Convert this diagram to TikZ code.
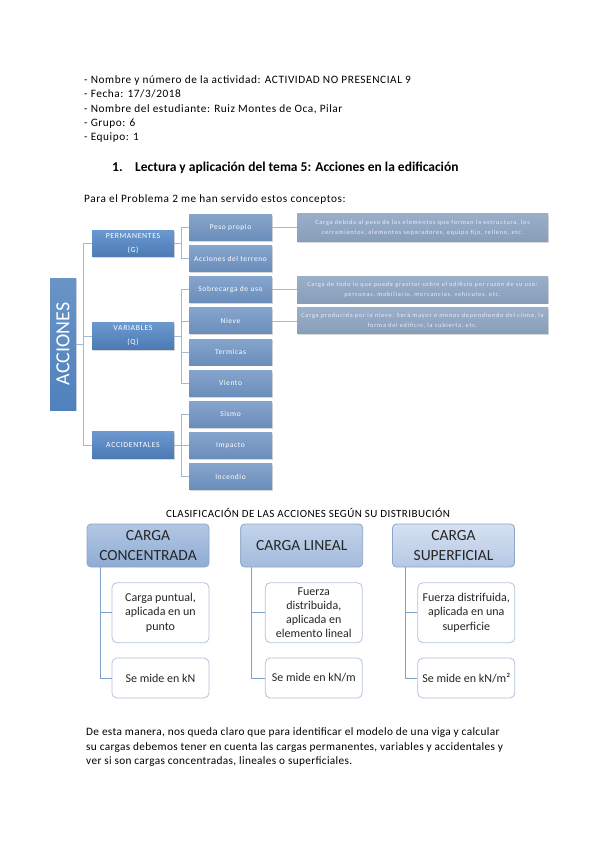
\documentclass[tikz,border=0pt]{standalone}
\usepackage{fontspec}
\setmainfont{Carlito}
\newfontfamily\trf[LetterSpace=8]{Carlito}
\newfontfamily\dsf[LetterSpace=12]{Carlito}
\newfontfamily\hdf[LetterSpace=5]{Carlito}
\newfontfamily\btf[LetterSpace=3]{Carlito}
\newfontfamily\ctf[LetterSpace=4]{Carlito}
\usetikzlibrary{shadows,calc}
\definecolor{accc}{HTML}{4F81BD}
\definecolor{lvtop}{HTML}{6C98CE}
\definecolor{lvbot}{HTML}{4B7AB6}
\definecolor{lttop}{HTML}{86A5CC}
\definecolor{ltbot}{HTML}{6A8DBB}
\definecolor{dstop}{HTML}{9AAFC8}
\definecolor{dsbot}{HTML}{879EBA}
\definecolor{connc}{HTML}{A3B8D2}
\definecolor{hatop}{HTML}{B3C7E3}
\definecolor{habot}{HTML}{8EABD4}
\definecolor{hbtop}{HTML}{C3D3EA}
\definecolor{hbbot}{HTML}{A3BBDD}
\definecolor{hctop}{HTML}{D6E1F1}
\definecolor{hcbot}{HTML}{B5C8E4}
\definecolor{hdraw}{HTML}{8DA5C6}
\definecolor{chdraw}{HTML}{B3C3D8}
\definecolor{lline}{HTML}{7FA0CA}
\definecolor{htext}{HTML}{262626}
\tikzset{
  shad/.style={drop shadow={opacity=0.3,shadow xshift=1pt,shadow yshift=-1.3pt}},
  conn/.style={draw=connc, line width=0.8pt},
  accbox/.style={shad, top color=accc!85!white, bottom color=accc, text=white, inner sep=0pt,
    minimum width=26pt, minimum height=132pt},
  lvbox/.style={shad, top color=lvtop, bottom color=lvbot, text=white, inner sep=0pt,
    minimum width=82pt, minimum height=26.5pt, align=center, font=\trf\fontsize{7.8}{14}\selectfont},
  ltbox/.style={shad, top color=lttop, bottom color=ltbot, text=white, inner sep=0pt,
    minimum width=83pt, minimum height=26pt, align=center, font=\trf\fontsize{7.5}{9}\selectfont},
  dsbox/.style={shad, top color=dstop, bottom color=dsbot, text=white!92!blue, inner sep=0pt,
    minimum width=251pt, align=center, font=\dsf\fontsize{6.3}{9.8}\selectfont},
  hbox/.style={draw=hdraw, line width=0.8pt, rounded corners=4pt, inner sep=0pt, text=htext,
    minimum width=122pt, minimum height=43pt, align=center, font=\fontsize{15.5}{19.5}\selectfont},
  chbox/.style={draw=chdraw, line width=0.8pt, fill=white, rounded corners=5pt, inner sep=0pt, text=htext,
    minimum width=97pt, align=center, font=\fontsize{12}{14.5}\selectfont},
  lin/.style={draw=lline, line width=0.9pt},
  txt/.style={anchor=base west, inner sep=0pt, font=\hdf\fontsize{11.3}{13}\selectfont},
  btxt/.style={anchor=base west, inner sep=0pt, font=\btf\fontsize{11.3}{13}\selectfont},
}
\begin{document}
\begin{tikzpicture}[x=1pt,y=-1pt]
\useasboundingbox (0,0) rectangle (599,848);
\fill[white] (0,0) rectangle (599,848);
% header text
\node[txt] (t1) at (84,83.5) {- Nombre y número de la actividad: ACTIVIDAD NO PRESENCIAL 9};
\node[txt] (t2) at (84,97.8) {- Fecha: 17/3/2018};
\node[txt] (t3) at (84,112.1) {- Nombre del estudiante: Ruiz Montes de Oca, Pilar};
\node[txt] (t4) at (84,126.4) {- Grupo: 6};
\node[txt] (t5) at (84,140.7) {- Equipo: 1};
\node[txt, font=\bfseries\fontsize{13.5}{16}\selectfont] (h0) at (112,171) {1.};
\node[txt, font=\bfseries\fontsize{13.5}{16}\selectfont] (h1) at (135,171) {Lectura y aplicación del tema 5: Acciones en la edificación};
\node[txt] (p0) at (84,202.5) {Para el Problema 2 me han servido estos conceptos:};
% tree
\node[accbox] (acc) at (63,344) {\rotatebox{90}{\fontsize{20}{20}\selectfont ACCIONES}};
\node[lvbox] (perm) at (133,243.5) {PERMANENTES\\(G)};
\node[lvbox] (var) at (133,336) {VARIABLES\\(Q)};
\node[lvbox] (acci) at (133,445) {ACCIDENTALES};
\node[ltbox] (pp) at (230.5,227.5) {Peso propio};
\node[ltbox] (at) at (230.5,258.6) {Acciones del terreno};
\node[ltbox] (sob) at (230.5,289.8) {Sobrecarga de uso};
\node[ltbox] (nie) at (230.5,320.9) {Nieve};
\node[ltbox] (ter) at (230.5,352.0) {Termicas};
\node[ltbox] (vie) at (230.5,383.2) {Viento};
\node[ltbox] (sis) at (230.5,414.3) {Sismo};
\node[ltbox] (imp) at (230.5,445.4) {Impacto};
\node[ltbox] (inc) at (230.5,476.5) {Incendio};
\node[dsbox, minimum height=28.5pt] (d1) at (422.5,227.5) {Carga debida al peso de los elementos que forman la estructura, los\\cerramientos, elementos separadores, equipo fijo, relleno, etc.};
\node[dsbox, minimum height=26.5pt] (d2) at (422.5,289.8) {Carga de todo lo que puede gravitar sobre el edificio por razón de su uso:\\personas, mobiliario, mercancías, vehículos, etc.};
\node[dsbox, minimum height=26pt] (d3) at (422.5,320.9) {Carga producida por la nieve. Será mayor o menos dependiendo del clima, la\\forma del edificio, la cubierta, etc.};
% tree connectors
\draw[conn] (perm.west) -- ++(-8.5,0) |- (acci.west);
\draw[conn] (var.west) -- ++(-8.5,0);
\draw[conn] (acc.east) -- ++(7.3,0);
\draw[conn] (perm.east) -- ++(7.5,0);
\draw[conn] (pp.west) -- ++(-7.5,0) |- (at.west);
\draw[conn] (var.east) -- ++(7.5,0);
\draw[conn] (sob.west) -- ++(-7.5,0) |- (vie.west);
\draw[conn] (nie.west) -- ++(-7.5,0);
\draw[conn] (ter.west) -- ++(-7.5,0);
\draw[conn] (acci.east) -- ++(7.5,0);
\draw[conn] (sis.west) -- ++(-7.5,0) |- (inc.west);
\draw[conn] (imp.west) -- ++(-7.5,0);
\draw[conn] (pp.east) -- (d1.west);
\draw[conn] (sob.east) -- (d2.west);
\draw[conn] (nie.east) -- (d3.west);
% lower section
\node[anchor=base, inner sep=0pt, font=\ctf\fontsize{11}{13}\selectfont] (ct) at (308,517) {CLASIFICACIÓN DE LAS ACCIONES SEGÚN SU DISTRIBUCIÓN};
\node[hbox, top color=hatop, bottom color=habot] (ha) at (148,545.5) {CARGA\\CONCENTRADA};
\node[hbox, top color=hbtop, bottom color=hbbot] (hb) at (301.7,545.5) {CARGA LINEAL};
\node[hbox, top color=hctop, bottom color=hcbot] (hc) at (453.5,545.5) {CARGA\\SUPERFICIAL};
\node[chbox, minimum height=60pt] (ca1) at (160.5,612.7) {Carga puntual,\\aplicada en un\\punto};
\node[chbox, minimum height=40pt] (ca2) at (160.5,678) {Se mide en kN};
\node[chbox, minimum height=60pt, font=\fontsize{12}{13.7}\selectfont] (cb1) at (313.8,612.7) {Fuerza\\distribuida,\\aplicada en\\elemento lineal};
\node[chbox, minimum height=40pt] (cb2) at (313.8,678) {Se mide en kN/m};
\node[chbox, minimum height=60pt] (cc1) at (466.3,612.7) {Fuerza distrifuida,\\aplicada en una\\superficie};
\node[chbox, minimum height=40pt] (cc2) at (466.3,678) {Se mide en kN/m²};
\coordinate (la) at ($(ha.south west)+(13.7,0)$);
\coordinate (lb) at ($(hb.south west)+(11.3,0)$);
\coordinate (lc) at ($(hc.south west)+(13,0)$);
\draw[lin] (la) |- (ca2.west);
\draw[lin] (la |- ca1.west) -- (ca1.west);
\draw[lin] (lb) |- (cb2.west);
\draw[lin] (lb |- cb1.west) -- (cb1.west);
\draw[lin] (lc) |- (cc2.west);
\draw[lin] (lc |- cc1.west) -- (cc1.west);
% bottom paragraph
\node[btxt] (b1) at (86,735.5) {De esta manera, nos queda claro que para identificar el modelo de una viga y calcular};
\node[btxt] (b2) at (86,750) {su cargas debemos tener en cuenta las cargas permanentes, variables y accidentales y};
\node[btxt] (b3) at (86,764.5) {ver si son cargas concentradas, lineales o superficiales.};
\end{tikzpicture}
\end{document}
